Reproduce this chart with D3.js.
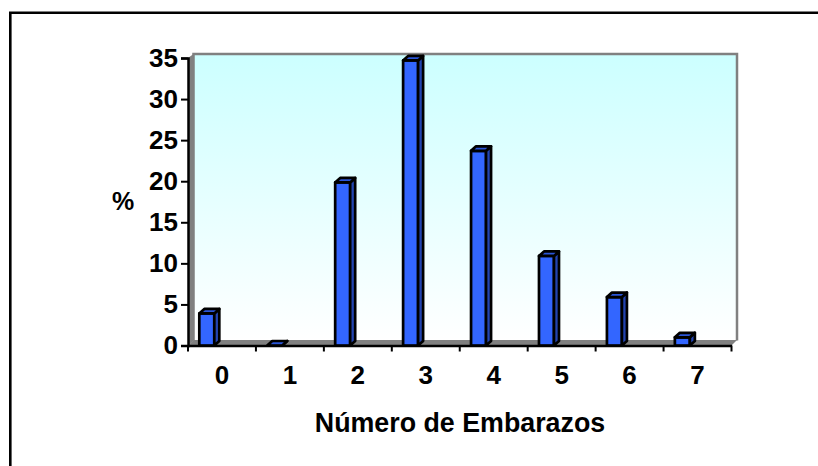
<!DOCTYPE html>
<html>
<head>
<meta charset="utf-8">
<script src="https://cdn.jsdelivr.net/npm/d3@7"></script>
<style>
html, body { margin: 0; padding: 0; background: #fff; }
svg { display: block; }
text { font-family: "Liberation Sans", Arial, sans-serif; font-weight: bold; fill: #000; }
</style>
</head>
<body>
<script>
var categories = ['0', '1', '2', '3', '4', '5', '6', '7'];
var values = [3.9, 0, 19.85, 34.7, 23.7, 10.9, 5.9, 1];
var yTicks = [0, 5, 10, 15, 20, 25, 30, 35];
var yLabel = '%';
var xLabel = 'Número de Embarazos';

var svgWidth = 818;
var svgHeight = 466;
var depth = 5.5;

var svg = d3.select('body')
    .append('svg')
    .attr('width', svgWidth)
    .attr('height', svgHeight);

var x = d3.scaleBand().domain(categories).range([188, 731.5]);
var y = d3.scaleLinear().domain([0, 35]).range([345.5, 58]);

var defs = svg.append('defs');
var grad = defs.append('linearGradient')
    .attr('id', 'wall')
    .attr('x1', 0).attr('y1', 0).attr('x2', 0).attr('y2', 1);
grad.append('stop').attr('offset', '0%').attr('stop-color', '#ccffff');
grad.append('stop').attr('offset', '100%').attr('stop-color', '#ffffff');

// frame round the chart
svg.append('path')
    .attr('d', 'M10.3,468V12.8H820')
    .attr('fill', 'none')
    .attr('stroke', '#000')
    .attr('stroke-width', 2.6);

var left = x.range()[0], right = x.range()[1];
var top_ = y(35), base = y(0);

// back wall
svg.append('rect')
    .attr('x', left + depth)
    .attr('y', top_ - 4)
    .attr('width', right - left)
    .attr('height', base - top_)
    .attr('fill', 'url(#wall)');

// side wall and floor
svg.append('path')
    .attr('d', ['M', left, top_, 'L', left + depth, top_ - 4, 'V', base - 5, 'L', left, base, 'Z'].join(' '))
    .attr('fill', '#808080');
svg.append('path')
    .attr('d', ['M', left, base, 'L', left + depth, base - 5.5, 'H', right + depth, 'L', right, base, 'Z'].join(' '))
    .attr('fill', '#808080');

// wall edges
svg.append('path')
    .attr('d', ['M', left + depth, base - 5, 'V', top_ - 4, 'H', right + depth, 'V', base - 5].join(' '))
    .attr('fill', 'none')
    .attr('stroke', '#808080')
    .attr('stroke-width', 2.5);

// bars
var barW = 15;
var barD = 5;
var bars = svg.append('g')
    .selectAll('g')
    .data(values)
    .enter()
    .append('g')
    .attr('stroke', '#000')
    .attr('stroke-width', 2.7)
    .attr('stroke-linejoin', 'round');

function barX(d, i) { return x(categories[i]) + 11.3; }

bars.append('rect')
    .attr('x', barX)
    .attr('y', function (d) { return y(d); })
    .attr('width', barW)
    .attr('height', function (d) { return base - y(d); })
    .attr('fill', '#3366ff');
bars.append('path')
    .attr('d', function (d, i) {
        var a = barX(d, i) + barW;
        return ['M', a, y(d), 'l', barD, -4.5, 'V', base - 4.5, 'L', a, base, 'Z'].join(' ');
    })
    .attr('fill', '#2344b0');
bars.append('path')
    .attr('d', function (d, i) {
        var a = barX(d, i);
        return ['M', a, y(d), 'l', barD, -4.5, 'h', barW, 'l', -barD, 4.5, 'Z'].join(' ');
    })
    .attr('fill', '#2a55d6');

// axes
var yAxis = d3.axisLeft(y).tickValues(yTicks).tickSize(7).tickPadding(3).tickFormat(d3.format('d'));
var yG = svg.append('g')
    .attr('transform', 'translate(' + left + ',0)')
    .call(yAxis);

var xAxis = d3.axisBottom(x).tickSize(0).tickPadding(20);
var xG = svg.append('g')
    .attr('transform', 'translate(0,' + base + ')')
    .call(xAxis);

xG.selectAll('.xtick')
    .data(d3.range(categories.length + 1))
    .enter()
    .append('line')
    .attr('class', 'xtick')
    .attr('x1', function (d) { return left + d * x.bandwidth(); })
    .attr('x2', function (d) { return left + d * x.bandwidth(); })
    .attr('y1', 0)
    .attr('y2', 6)
    .attr('stroke', '#000')
    .attr('stroke-width', 2);

[yG, xG].forEach(function (g) {
    g.selectAll('.domain').attr('stroke', '#000').attr('stroke-width', 2.5);
    g.selectAll('.tick line').attr('stroke', '#000').attr('stroke-width', 2);
    g.selectAll('text').style('font-size', '26px');
});

svg.append('text')
    .attr('x', 123)
    .attr('y', 210)
    .attr('text-anchor', 'middle')
    .attr('font-size', 25)
    .text(yLabel);

svg.append('text')
    .attr('x', 460)
    .attr('y', 432)
    .attr('text-anchor', 'middle')
    .attr('font-size', 26.8)
    .text(xLabel);
</script>
</body>
</html>
